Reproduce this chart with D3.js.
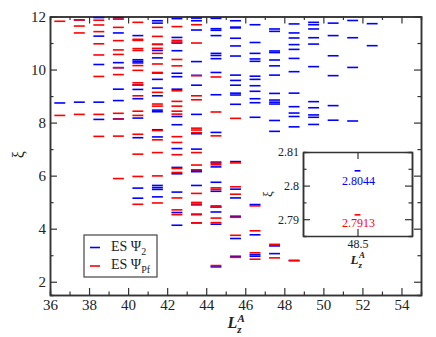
<!DOCTYPE html>
<html>
<head>
<meta charset="utf-8">
<script src="https://cdn.jsdelivr.net/npm/d3@7"></script>
<style>
  body { margin: 0; background: #fff; }
  svg text { font-family: "Liberation Serif", "Times New Roman", "DejaVu Serif", serif !important; fill: #222; }
</style>
</head>
<body>
<svg width="436" height="337"></svg>
<script>
// columns of the entanglement spectrum (L_z^A, dashes centred on half integers)
const lzA = [36.5, 37.5, 38.5, 39.5, 40.5, 41.5, 42.5, 43.5, 44.5,
             45.5, 46.5, 47.5, 48.5, 49.5, 50.5, 51.5, 52.5];

// ES Psi_2 levels, one list per column
const psi2 = [
    [8.74],
    [11.87, 8.77],
    [11.96, 11.26, 10.19, 8.77, 8.12],
    [11.95, 11.38, 10.26, 10.07, 9.26, 8.83, 8.14],
    [11.28, 10.37, 10.31, 10.25, 9.42, 9.25, 8.90, 8.17, 7.43, 5.53, 5.15],
    [11.84, 11.75, 10.95, 10.72, 10.44, 9.87, 9.63, 9.30, 9.01, 8.47, 8.41, 7.73, 7.46, 5.63, 5.55, 5.48, 5.20],
    [11.92, 11.21, 11.00, 10.71, 9.86, 9.73, 9.26, 8.23, 7.92, 7.02, 6.31, 6.07, 5.38, 4.61, 4.13],
    [11.94, 11.84, 11.49, 10.30, 9.78, 9.41, 8.31, 7.58, 7.00, 6.19, 6.15, 5.63, 4.90, 4.53, 4.22],
    [11.93, 11.54, 11.48, 11.28, 10.61, 10.53, 10.41, 9.89, 9.05, 7.63, 6.51, 6.33, 5.75, 5.41, 4.82, 4.63, 4.17, 2.56],
    [11.84, 11.60, 11.57, 11.18, 10.89, 10.51, 9.79, 9.59, 9.41, 9.11, 9.04, 8.69, 6.53, 5.49, 5.16, 4.47, 3.63, 2.96],
    [11.69, 11.02, 10.61, 10.40, 10.31, 9.75, 9.63, 9.39, 9.18, 8.90, 8.75, 8.20, 4.91, 3.77, 3.02, 2.96],
    [11.53, 11.44, 10.70, 10.64, 10.36, 10.14, 9.79, 9.10, 8.85, 8.77, 8.70, 8.08, 7.67, 3.35, 3.06],
    [11.72, 11.38, 11.19, 10.94, 10.76, 10.42, 9.92, 9.11, 8.60, 8.36, 8.23, 7.84, 2.8044],
    [11.78, 11.69, 11.53, 11.20, 10.96, 10.11, 8.79, 8.56, 8.29, 8.20, 7.93],
    [11.75, 11.28, 10.52, 9.77, 8.64, 8.09],
    [11.85, 11.20, 10.08, 8.06],
    [11.73, 10.90]
];

// ES Psi_Pf levels, one list per column
const psiPf = [
    [11.82, 8.27],
    [11.87, 11.64, 11.38, 8.31],
    [11.86, 11.68, 11.43, 10.97, 10.55, 9.74, 8.31, 7.48],
    [11.90, 11.59, 11.09, 10.74, 10.57, 10.07, 9.81, 8.35, 8.13, 7.49, 5.89],
    [11.78, 11.14, 11.10, 10.79, 10.72, 10.15, 9.97, 9.50, 9.42, 9.01, 8.43, 8.27, 7.56, 6.81, 5.97, 4.92],
    [11.59, 11.25, 10.95, 10.80, 10.61, 10.21, 9.89, 9.14, 8.70, 8.62, 7.70, 7.35, 6.87, 5.99, 4.97],
    [11.62, 11.10, 11.04, 10.38, 10.14, 9.20, 8.80, 8.62, 8.43, 8.32, 7.47, 7.25, 6.79, 6.27, 6.12, 5.16, 4.71, 4.53],
    [11.69, 11.00, 9.77, 9.01, 8.86, 7.79, 7.72, 7.62, 6.87, 6.40, 6.22, 5.33, 4.99, 4.93, 4.55, 4.22],
    [9.72, 8.40, 7.50, 6.47, 6.41, 5.54, 5.48, 4.86, 4.81, 4.40, 4.23, 2.61],
    [8.16, 6.48, 5.58, 5.30, 4.43, 3.75, 2.92],
    [4.86, 3.92, 3.09, 2.85],
    [3.41, 2.90],
    [2.7913],
    [], [], [], []
];

const xTicks = [36, 38, 40, 42, 44, 46, 48, 50, 52, 54];
const yTicks = [2, 4, 6, 8, 10, 12];

// inset zoom on the lowest level at L_z^A = 48.5
const insetLz = [48.5];
const insetPsi2 = [2.8044];
const insetPsiPf = [2.7913];
const insetYTicks = [2.79, 2.8, 2.81];
const insetXTicks = [48.5];

const blue = '#0000ff';
const red = '#ff0000';
const serif = '"Liberation Serif", "Times New Roman", "DejaVu Serif", serif';

const svg = d3.select('svg');

// ----------------------------------------------------------
//                      main frame
// ----------------------------------------------------------
const box = { left: 50, right: 421, top: 16.5, bottom: 295 };

const x = d3.scaleLinear().domain([36, 55]).range([box.left, box.right]);
const y = d3.scaleLinear().domain([1.5, 12]).range([box.bottom, box.top]);

function styleAxis(g, size) {
    g.attr('font-family', serif);
    g.selectAll('.domain').attr('stroke', '#333').attr('stroke-width', 1.5);
    g.selectAll('.tick line').attr('stroke', '#333').attr('stroke-width', 1.2);
    g.selectAll('.tick text')
        .style('font-family', serif)
        .style('font-size', size + 'px')
        .attr('fill', '#222');
}

const xMinor = d3.range(37, 55, 2);
const yMinor = d3.range(3, 12, 2);

// bottom / left with labels, top / right mirrored ticks
svg.append('g').attr('transform', `translate(0,${box.bottom})`)
    .call(d3.axisBottom(x).tickValues(xTicks).tickSizeInner(-7).tickSizeOuter(0).tickPadding(4))
    .call(g => styleAxis(g, 15));
svg.append('g').attr('transform', `translate(0,${box.bottom})`)
    .call(d3.axisBottom(x).tickValues(xMinor).tickSize(-3.5).tickFormat(''))
    .call(g => styleAxis(g, 15));
svg.append('g').attr('transform', `translate(0,${box.top})`)
    .call(d3.axisTop(x).tickValues(xTicks).tickSizeInner(-7).tickSizeOuter(0).tickFormat(''))
    .call(g => styleAxis(g, 15));
svg.append('g').attr('transform', `translate(0,${box.top})`)
    .call(d3.axisTop(x).tickValues(xMinor).tickSize(-3.5).tickFormat(''))
    .call(g => styleAxis(g, 15));

svg.append('g').attr('transform', `translate(${box.left},0)`)
    .call(d3.axisLeft(y).tickValues(yTicks).tickSizeInner(-7).tickSizeOuter(0).tickPadding(4))
    .call(g => styleAxis(g, 15));
svg.append('g').attr('transform', `translate(${box.left},0)`)
    .call(d3.axisLeft(y).tickValues(yMinor).tickSize(-3.5).tickFormat(''))
    .call(g => styleAxis(g, 15));
svg.append('g').attr('transform', `translate(${box.right},0)`)
    .call(d3.axisRight(y).tickValues(yTicks).tickSizeInner(-7).tickSizeOuter(0).tickFormat(''))
    .call(g => styleAxis(g, 15));
svg.append('g').attr('transform', `translate(${box.right},0)`)
    .call(d3.axisRight(y).tickValues(yMinor).tickSize(-3.5).tickFormat(''))
    .call(g => styleAxis(g, 15));

// ----------------------------------------------------------
//                      the levels
// ----------------------------------------------------------
const halfW = 0.28;

function levels(list) {
    const out = [];
    list.forEach((col, i) => col.forEach(v => out.push({ lz: lzA[i], v: v })));
    return out;
}

function drawDashes(g, data, color, xs, ys, hw) {
    g.selectAll(null)
        .data(data)
        .enter().append('line')
        .attr('x1', d => xs(d.lz - hw))
        .attr('x2', d => xs(d.lz + hw))
        .attr('y1', d => ys(d.v))
        .attr('y2', d => ys(d.v))
        .attr('stroke', color)
        .attr('stroke-width', 1.6);
}

const marks = svg.append('g');
drawDashes(marks, levels(psi2), blue, x, y, halfW);
drawDashes(marks, levels(psiPf), red, x, y, halfW);

// axis titles
const xl = svg.append('text')
    .attr('x', (box.left + box.right) / 2 - 8)
    .attr('y', 328)
    .style('font-size', '16px').style('font-weight', 'bold').style('font-style', 'italic');
xl.append('tspan').text('L');
xl.append('tspan').attr('dy', 5).style('font-size', '11px').text('z');
xl.append('tspan').attr('dx', -4).attr('dy', -11).style('font-size', '11px').text('A');

svg.append('text')
    .attr('transform', `translate(24,${(box.top + box.bottom) / 2 - 1}) rotate(-90)`)
    .attr('text-anchor', 'middle')
    .style('font-size', '16px')
    .text('ξ');

// ----------------------------------------------------------
//                      legend
// ----------------------------------------------------------
const legend = svg.append('g');
legend.append('rect')
    .attr('x', 84).attr('y', 235).attr('width', 73).attr('height', 42)
    .attr('fill', '#fff').attr('stroke', '#444').attr('stroke-width', 1.2);

const legendRows = [
    { color: blue, sub: '2', ly: 247.5 },
    { color: red, sub: 'Pf', ly: 266 }
];
legendRows.forEach(r => {
    legend.append('line')
        .attr('x1', 90).attr('x2', 100).attr('y1', r.ly).attr('y2', r.ly)
        .attr('stroke', r.color).attr('stroke-width', 1.6);
    const t = legend.append('text')
        .attr('x', 111).attr('y', r.ly + 3)
        .style('font-size', '14px');
    t.append('tspan').text('ES Ψ');
    t.append('tspan').attr('dy', 4).style('font-size', '10px').text(r.sub);
});

// ----------------------------------------------------------
//                      inset
// ----------------------------------------------------------
const ibox = { left: 303, right: 412, top: 152, bottom: 236 };
const ix = d3.scaleLinear().domain([48, 49]).range([ibox.left, ibox.right]);
const iy = d3.scaleLinear().domain([2.785, 2.81]).range([ibox.bottom, ibox.top]);

const inset = svg.append('g');
inset.append('rect')
    .attr('x', ibox.left).attr('y', ibox.top)
    .attr('width', ibox.right - ibox.left).attr('height', ibox.bottom - ibox.top)
    .attr('fill', '#fff');

const iyMinor = [2.795, 2.805];
inset.append('g').attr('transform', `translate(${ibox.left},0)`)
    .call(d3.axisLeft(iy).tickValues(insetYTicks).tickSizeInner(-7).tickSizeOuter(0).tickPadding(4).tickFormat(d3.format('')))
    .call(g => styleAxis(g, 12));
inset.append('g').attr('transform', `translate(${ibox.left},0)`)
    .call(d3.axisLeft(iy).tickValues(iyMinor).tickSize(-3.5).tickFormat(''))
    .call(g => styleAxis(g, 12));
inset.append('g').attr('transform', `translate(${ibox.right},0)`)
    .call(d3.axisRight(iy).tickValues(insetYTicks).tickSizeInner(-7).tickSizeOuter(0).tickFormat(''))
    .call(g => styleAxis(g, 12));
inset.append('g').attr('transform', `translate(${ibox.right},0)`)
    .call(d3.axisRight(iy).tickValues(iyMinor).tickSize(-3.5).tickFormat(''))
    .call(g => styleAxis(g, 12));
inset.append('g').attr('transform', `translate(0,${ibox.bottom})`)
    .call(d3.axisBottom(ix).tickValues(insetXTicks).tickSizeInner(-7).tickSizeOuter(0).tickPadding(3))
    .call(g => styleAxis(g, 12));
inset.append('g').attr('transform', `translate(0,${ibox.top})`)
    .call(d3.axisTop(ix).tickValues(insetXTicks).tickSizeInner(-7).tickSizeOuter(0).tickFormat(''))
    .call(g => styleAxis(g, 12));

const iHalfW = 0.027;
const insetData = (vals) => vals.map((v, i) => ({ lz: insetLz[i], v: v }));
drawDashes(inset, insetData(insetPsi2), blue, ix, iy, iHalfW);
drawDashes(inset, insetData(insetPsiPf), red, ix, iy, iHalfW);

inset.append('text')
    .attr('x', ix(insetLz[0]) + 1).attr('y', iy(insetPsi2[0]) + 14)
    .attr('text-anchor', 'middle').style('font-size', '12px')
    .style('fill', blue).text(insetPsi2[0]);
inset.append('text')
    .attr('x', ix(insetLz[0]) + 1).attr('y', iy(insetPsiPf[0]) + 12)
    .attr('text-anchor', 'middle').style('font-size', '12px')
    .style('fill', red).text(insetPsiPf[0]);

const il = inset.append('text')
    .attr('x', (ibox.left + ibox.right) / 2 - 7)
    .attr('y', 264)
    .style('font-size', '13px').style('font-weight', 'bold').style('font-style', 'italic');
il.append('tspan').text('L');
il.append('tspan').attr('dy', 4).style('font-size', '9px').text('z');
il.append('tspan').attr('dx', -3).attr('dy', -10).style('font-size', '9px').text('A');

inset.append('text')
    .attr('transform', `translate(272,${(ibox.top + ibox.bottom) / 2}) rotate(-90)`)
    .attr('text-anchor', 'middle')
    .style('font-size', '13px')
    .text('ξ');
</script>
</body>
</html>
